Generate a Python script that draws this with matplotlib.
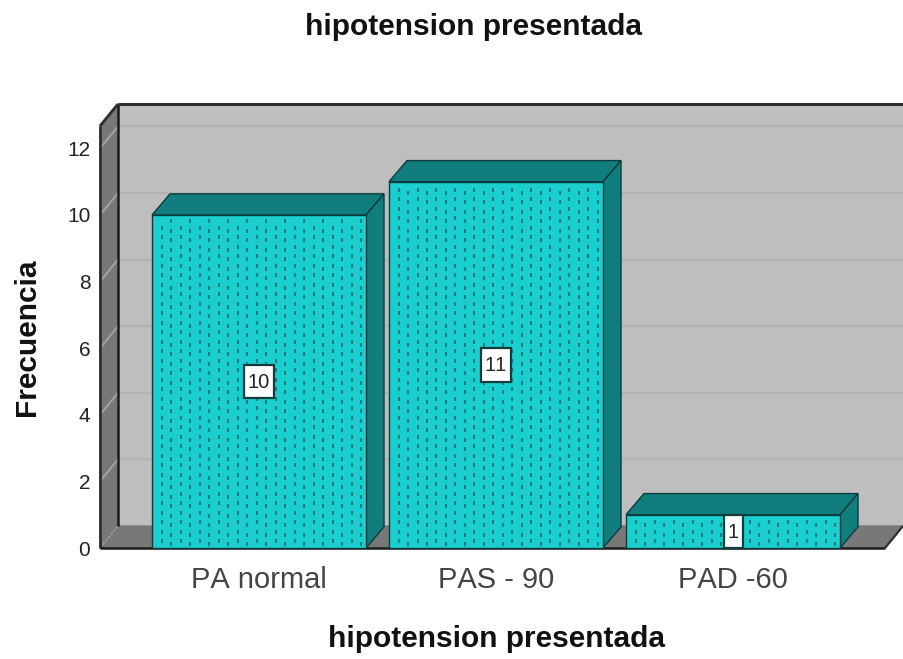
import numpy as np
import matplotlib
matplotlib.use("Agg")
import matplotlib.pyplot as plt
from matplotlib.patches import Polygon, Rectangle

categories = ["PA normal", "PAS - 90", "PAD -60"]
frecuencia = [10, 11, 1]
y_ticks = [0, 2, 4, 6, 8, 10, 12]
titulo = "hipotension presentada"

WALL = "#bebebe"
SIDE = "#787878"
GRID = "#b3b3b3"
FRONT = "#1ccfcf"
SHADE = "#127d7d"
EDGE = "#0b3b3b"
FRAME = "#2e2e2e"

W, H = 904, 659
plt.rcParams["font.family"] = ["Liberation Sans", "DejaVu Sans"]
plt.rcParams["text.kerning_factor"] = 6

fig = plt.figure(figsize=(W / 100, H / 100), dpi=100)
# axes box is the front plane of the 3d box, everything behind it spills out
left, right, top, bottom = 100, 885, 126, 548
ax = fig.add_axes([left / W, 1 - bottom / H, (right - left) / W, (bottom - top) / H])

px_x = 237.0   # pixels per category
px_y = 33.3    # pixels per unit
ax.set_xlim((left - 259) / px_x, (right - 259) / px_x)
ax.set_ylim(0, (bottom - top) / px_y)
for s in ax.spines.values():
    s.set_visible(False)
ax.patch.set_visible(False)

dx, dy = 18 / px_x, 22 / px_y
x0, x1 = ax.get_xlim()
y1 = ax.get_ylim()[1]


def poly(points, face, edge=None, lw=1.0, z=1):
    ax.add_patch(Polygon(points, closed=True, facecolor=face, edgecolor=edge or face,
                         linewidth=lw, zorder=z, clip_on=False))


def line(xs, ys, color, lw=1.0, z=2, ls="-"):
    ax.plot(xs, ys, color=color, lw=lw, zorder=z, ls=ls, clip_on=False, solid_capstyle="butt")


# Walls and floor
poly([(x0 + dx, dy), (x1 + dx, dy), (x1 + dx, y1 + dy), (x0 + dx, y1 + dy)], WALL)
poly([(x0, 0), (x0 + dx, dy), (x0 + dx, y1 + dy), (x0, y1)], SIDE)
poly([(x0, 0), (x1, 0), (x1 + dx, dy), (x0 + dx, dy)], SIDE)

# Gridlines, on the back wall and across the side wall
for t in y_ticks[1:]:
    line([x0 + dx, x1 + dx], [t + dy, t + dy], GRID, 1.6)
    line([x0, x0 + dx], [t, t + dy], "#a2a2a2", 1.4)
line([x0, x0 + dx], [0, dy], "#a2a2a2", 1.0, ls=(0, (2, 1)))

# Frame
line([x0 + dx, x0 + dx], [dy, y1 + dy], "#1c1c1c", 1.8, 3)
line([x0 + dx, x1 + dx], [y1 + dy, y1 + dy], FRAME, 2.2, 3)
line([x0, x0], [0, y1], FRAME, 2.0, 3)
line([x0, x0 + dx], [y1, y1 + dy], FRAME, 2.0, 3)
line([x0, x1], [0, 0], "#1c1c1c", 1.8, 3)
line([x1, x1 + dx], [0, dy], FRAME, 1.6, 3)

# Bars
bar_w = 214 / px_x
bars = ax.bar(range(len(categories)), frecuencia, width=bar_w, color=FRONT,
              edgecolor=EDGE, linewidth=1.0, zorder=5, clip_on=False)
for b in bars:
    bl, br, h = b.get_x(), b.get_x() + b.get_width(), b.get_height()
    poly([(bl, h), (br, h), (br + dx, h + dy * 0.96), (bl + dx, h + dy * 0.96)], SHADE, EDGE, 1.0, 4)
    poly([(br, 0), (br + dx, dy * 0.96), (br + dx, h + dy * 0.96), (br, h)], SHADE, EDGE, 1.0, 4)
    # dotted fill pattern of the bar face
    xs = np.arange(bl + 9.5 / px_x, br - 2 / px_x, 9.5 / px_x)
    for i, xp in enumerate(xs):
        start = (4 if i % 2 else 7) / px_y
        ys = np.arange(start, h - 3 / px_y, 9.5 / px_y)
        ax.plot([xp] * len(ys), ys, ls="none", marker="|", ms=3.4, mew=1.5,
                color="#147f84", zorder=6, clip_on=False)

# Value labels
for i, v in enumerate(frecuencia):
    s = str(v)
    box_w = (30 if len(s) > 1 else 19) / px_x
    ax.add_patch(Rectangle((i - box_w / 2, v / 2 - 0.5), box_w, 1.0, facecolor="white",
                           edgecolor="#123c3c", linewidth=1.6, zorder=7, clip_on=False))
    ax.text(i, v / 2 - 0.03, s, ha="center", va="center", fontsize=14.5, color="#222222", zorder=8)

ax.set_xticks(range(len(categories)))
ax.set_xticklabels(categories, fontsize=21, color="#444444")
ax.set_yticks(y_ticks)
ax.set_yticklabels([str(t) for t in y_ticks], fontsize=15, color="#222222")
ax.tick_params(axis="x", length=0, pad=13)
ax.tick_params(axis="y", length=0, pad=7)

fig.text(474 / W, 1 - 27 / H, titulo, ha="center", va="center", fontsize=21.5, fontweight="bold", color="#111111")
fig.text(497 / W, 1 - 639 / H, titulo, ha="center", va="center", fontsize=21.5, fontweight="bold", color="#111111")
fig.text(27 / W, 1 - 337 / H, "Frecuencia", rotation=90, ha="center", va="center",
         fontsize=21.5, fontweight="bold", color="#111111")

fig.savefig("out.png", dpi=100)
